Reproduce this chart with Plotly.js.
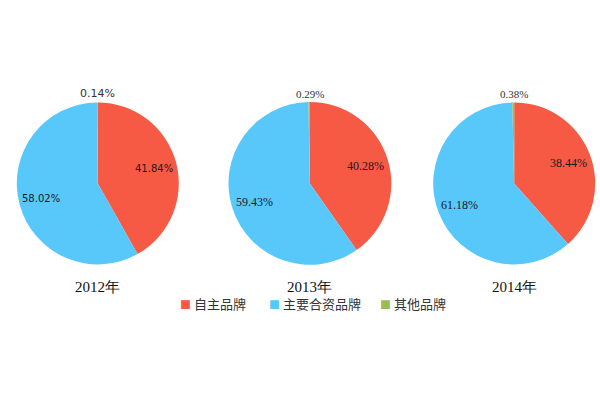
<!DOCTYPE html>
<html>
<head>
<meta charset="utf-8">
<script src="https://cdn.plot.ly/plotly-3.0.1.min.js"></script>
<style>
  html, body { margin: 0; padding: 0; background: #ffffff; }
  #chart { width: 600px; height: 400px; }
</style>
</head>
<body>
<div id="chart"></div>
<script>
// 品牌份额数据
const brands = ['自主品牌', '主要合资品牌', '其他品牌'];
const years = ['2012年', '2013年', '2014年'];
const share2012 = [41.84, 58.02, 0.14];
const share2013 = [40.28, 59.43, 0.29];
const share2014 = [38.44, 61.18, 0.38];
const colors = ['#f65a45', '#58c8fa', '#9bbb59'];

const shares = [share2012, share2013, share2014];
const W = 600, H = 400;
const domainsX = [[0.028, 0.298], [0.38, 0.653], [0.722, 0.992]];
const domainY = [0.338, 0.745];
const labelFonts = [
  { family: 'DejaVu Sans', size: 10, color: '#1a1a1a' },
  { family: 'Liberation Serif', size: 12, color: '#1a1a1a' },
  { family: 'Liberation Serif', size: 12, color: '#1a1a1a' }
];

const traces = shares.map((vals, i) => ({
  type: 'pie',
  labels: brands,
  values: vals,
  sort: false,
  direction: 'clockwise',
  rotation: 0,
  marker: { colors: colors, line: { width: 0 } },
  domain: { x: domainsX[i], y: domainY },
  textinfo: 'none',
  showlegend: false,
  hoverinfo: 'label+percent'
}));

const annotations = [];
shares.forEach((vals, i) => {
  const cx = (domainsX[i][0] + domainsX[i][1]) / 2;
  const cy = (domainY[0] + domainY[1]) / 2;
  const rPx = (domainY[1] - domainY[0]) * H / 2;
  const total = vals.reduce((a, b) => a + b, 0);

  // 大扇区的百分比标签, 放在扇区中线约0.72半径处
  let cum = 0;
  vals.forEach((v, k) => {
    const mid = (cum + v / 2) / total * 2 * Math.PI;
    cum += v;
    if (k > 1) return;
    const dx = Math.sin(mid) * rPx * 0.72;
    const dy = Math.cos(mid) * rPx * 0.72;
    annotations.push({
      text: v.toFixed(2) + '%', x: cx + dx / W, y: cy + dy / H,
      xref: 'paper', yref: 'paper', xanchor: 'center', yanchor: 'middle',
      showarrow: false, font: labelFonts[i]
    });
  });

  // 其他品牌百分比 (顶部)
  annotations.push({
    text: vals[2].toFixed(2) + '%', x: cx, y: domainY[1], xref: 'paper', yref: 'paper',
    xanchor: 'center', yanchor: 'bottom', showarrow: false,
    font: Object.assign({}, labelFonts[i], { size: 11, color: '#333' })
  });

  // 年份标题
  annotations.push({
    text: years[i], x: cx, y: domainY[0] - 0.03, xref: 'paper', yref: 'paper',
    xanchor: 'center', yanchor: 'top', showarrow: false,
    font: { family: 'Liberation Serif', size: 15, color: '#111' }
  });
});

// 图例
const legendX = [178, 267, 378];
brands.forEach((b, k) => {
  annotations.push({
    text: '<span style="color:' + colors[k] + ';font-size:11px">■</span> ' + b,
    x: legendX[k] / W, y: 1 - 303 / H, xref: 'paper', yref: 'paper',
    xanchor: 'left', yanchor: 'middle', showarrow: false,
    font: { family: 'Noto Sans CJK SC', size: 13, color: '#333' }
  });
});

const layout = {
  width: W,
  height: H,
  margin: { t: 0, b: 0, l: 0, r: 0 },
  paper_bgcolor: '#ffffff',
  showlegend: false,
  annotations: annotations
};

Plotly.newPlot('chart', traces, layout, { displayModeBar: false, staticPlot: true });
</script>
</body>
</html>
